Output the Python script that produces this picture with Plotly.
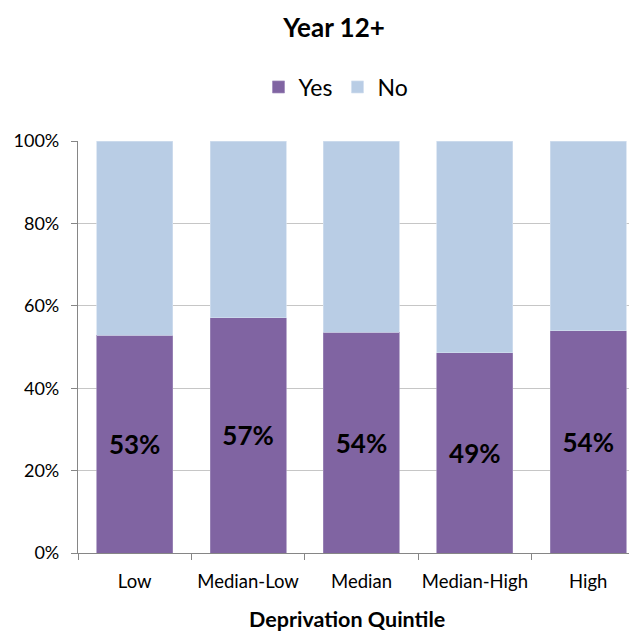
import plotly.graph_objects as go

categories = ["Low", "Median-Low", "Median", "Median-High", "High"]
yes_values = [52.9, 57.1, 53.6, 48.6, 53.9]
no_values = [round(100 - v, 1) for v in yes_values]
yes_labels = [f"{v:.0f}%" for v in yes_values]
y_ticks = [0, 20, 40, 60, 80, 100]
y_tick_labels = [f"{t}%" for t in y_ticks]

FONT = "Lato"
PURPLE = "#8064A2"
LIGHTBLUE = "#B9CDE5"

# page has an 8px body margin; figure sized to fill the 637x631 window
W, H = 629, 623
PLOT_H = 412

fig = go.Figure()
fig.add_trace(go.Bar(
    x=categories, y=yes_values, name="Yes",
    marker=dict(color=PURPLE, line=dict(color="#9f8bbb", width=0.7)),
    text=yes_labels, textposition="inside", insidetextanchor="middle",
    textfont=dict(family=FONT, size=26, color="black", weight="bold"),
    textangle=0,
))
fig.add_trace(go.Bar(
    x=categories, y=no_values, name="No",
    marker=dict(color=LIGHTBLUE, line=dict(color="#d3e0ef", width=0.7)),
    hoverinfo="skip",
))

fig.update_layout(
    barmode="stack",
    bargap=0.33,
    width=W, height=H,
    margin=dict(l=70, r=0, t=133, b=78),
    paper_bgcolor="white", plot_bgcolor="white",
    font=dict(family=FONT, color="black"),
    title=dict(text="<b>Year 12+</b>", x=(334 - 78) / 559, xref="paper",
               xanchor="center", y=1 - 20 / H, yanchor="middle",
               font=dict(family=FONT, size=26, color="black")),
    legend=dict(orientation="h", x=(336 - 78) / 559, xanchor="center",
                y=1 + (141 - 87) / PLOT_H, yanchor="middle",
                font=dict(family=FONT, size=23, color="black"),
                itemwidth=30, tracegroupgap=0, traceorder="normal"),
    uniformtext=dict(mode=False),
    showlegend=True,
    annotations=[dict(
        text="<b>Deprivation Quintile</b>", xref="paper", yref="paper",
        x=(347 - 78) / 559, y=-(619 - 553) / PLOT_H,
        xanchor="center", yanchor="middle", showarrow=False,
        font=dict(family=FONT, size=21.5, color="black"),
    )],
)
fig.update_xaxes(
    type="category", range=[-0.5, 4.43],
    tickson="boundaries", ticks="outside", ticklen=6, tickcolor="#868686",
    showline=True, linecolor="#868686", linewidth=1.3,
    showgrid=False, automargin=False, tickangle=0,
    ticklabelstandoff=12,
    tickfont=dict(family=FONT, size=18.5, color="black"),
)
fig.update_yaxes(
    range=[0, 100], tickvals=y_ticks, ticktext=y_tick_labels,
    ticks="outside", ticklen=6, tickcolor="#868686",
    showline=True, linecolor="#868686", linewidth=1.3,
    showgrid=True, gridcolor="#c6c6c6", gridwidth=1.3,
    zeroline=False, automargin=False,
    ticklabelstandoff=8,
    tickfont=dict(family=FONT, size=18, color="black"),
)

fig.write_html("out.html")
